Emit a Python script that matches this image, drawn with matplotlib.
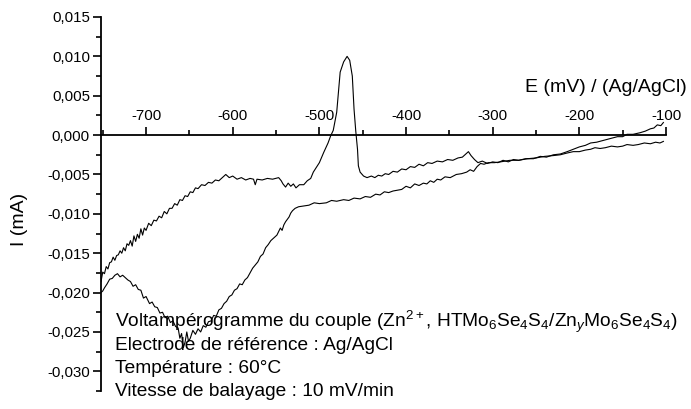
import numpy as np
import matplotlib
matplotlib.use("Agg")
import matplotlib.pyplot as plt
from matplotlib.ticker import MultipleLocator, FuncFormatter

plt.rcParams['font.family'] = ['Liberation Sans', 'DejaVu Sans']
plt.rcParams['mathtext.fontset'] = 'custom'
plt.rcParams['mathtext.rm'] = 'Liberation Sans'
plt.rcParams['mathtext.it'] = 'Liberation Sans:italic'

# aller : -100 -> -752 mV (branche du bas)
E_aller = [-103, -107, -112, -118, -125, -132, -138, -145, -150, -156, -163, -170,
           -176, -182, -187, -193, -200, -207, -215, -222, -230, -240, -250, -260,
           -270, -280, -291, -298, -305, -310, -314, -318, -322, -326, -330, -336,
           -342, -349, -355, -360, -364, -368, -372, -376, -380, -385, -390, -395,
           -400, -405, -410, -415, -420, -425, -430, -435, -441, -447, -453, -460,
           -466, -472, -480, -486, -492, -500, -506, -512, -518, -524, -528, -531,
           -533, -535, -537, -539, -541, -543, -545, -549, -553, -556, -559, -562,
           -565, -568, -571, -574, -577, -580, -583, -586, -589, -592, -595, -598,
           -601, -604, -607, -610, -613, -616, -619, -622, -625, -628, -631, -634,
           -637, -640, -643, -646, -649, -651, -653, -655, -657, -659, -661, -663,
           -666, -669, -672, -675, -678, -681, -684, -687, -690, -693, -696, -700,
           -703, -706, -709, -712, -715, -718, -721, -724, -727, -730, -733, -736,
           -739, -742, -745, -748, -750, -752]
I_aller = [-0.0008, -0.0010, -0.0009, -0.0011, -0.0010, -0.0012, -0.0013, -0.0012,
           -0.0014, -0.0015, -0.0014, -0.0016, -0.0017, -0.0016, -0.0018, -0.0019,
           -0.0021, -0.0021, -0.0023, -0.0025, -0.0026, -0.0027, -0.0029, -0.0030,
           -0.0032, -0.0032, -0.0034, -0.0035, -0.0035, -0.0037, -0.0036, -0.0040,
           -0.0046, -0.0044, -0.0047, -0.0049, -0.0050, -0.0054, -0.0053, -0.0057,
           -0.0056, -0.0060, -0.0058, -0.0062, -0.0061, -0.0064, -0.0062, -0.0067,
           -0.0065, -0.0069, -0.0070, -0.0071, -0.0073, -0.0072, -0.0076, -0.0075,
           -0.0079, -0.0078, -0.0081, -0.0080, -0.0083, -0.0082, -0.0084, -0.0083,
           -0.0086, -0.0087, -0.0086, -0.0089, -0.0090, -0.0091, -0.0093, -0.0096,
           -0.0099, -0.0104, -0.0107, -0.0110, -0.0114, -0.0121, -0.0118, -0.0127,
           -0.0131, -0.0134, -0.0139, -0.0143, -0.0151, -0.0154, -0.0161, -0.0165,
           -0.0169, -0.0175, -0.0181, -0.0184, -0.0190, -0.0189, -0.0195, -0.0197,
           -0.0203, -0.0205, -0.0211, -0.0214, -0.0220, -0.0222, -0.0230, -0.0229,
           -0.0236, -0.0237, -0.0244, -0.0242, -0.0250, -0.0246, -0.0253, -0.0248,
           -0.0258, -0.0262, -0.0250, -0.0263, -0.0270, -0.0252, -0.0258, -0.0245,
           -0.0243, -0.0236, -0.0238, -0.0230, -0.0232, -0.0225, -0.0226, -0.0219,
           -0.0218, -0.0212, -0.0214, -0.0205, -0.0207, -0.0197, -0.0196, -0.0190,
           -0.0192, -0.0186, -0.0184, -0.0181, -0.0178, -0.0180, -0.0176, -0.0178,
           -0.0182, -0.0183, -0.0189, -0.0194, -0.0198, -0.0200]

# retour : -752 -> -100 mV (branche du haut, pic d'oxydation)
E_retour = [-752, -750, -748, -746, -744, -742, -740, -738, -736, -734, -732, -730,
            -728, -726, -724, -722, -720, -718, -716, -714, -712, -710, -708, -706,
            -704, -702, -700, -697, -694, -691, -688, -685, -682, -679, -676, -673,
            -670, -667, -664, -661, -658, -655, -652, -649, -646, -643, -640, -636,
            -632, -628, -624, -620, -616, -612, -608, -604, -600, -595, -590, -585,
            -580, -576, -574, -572, -566, -560, -554, -547, -544, -542, -539, -536,
            -533, -530, -527, -523, -518, -514, -510, -507, -500, -495, -490, -487,
            -484, -480, -476, -472, -468, -465, -462, -460, -458, -456, -455, -453,
            -449, -445, -440, -436, -432, -428, -424, -420, -415, -410, -405, -400,
            -395, -390, -385, -380, -375, -370, -364, -358, -352, -346, -340, -335,
            -331, -328, -325, -321, -317, -312, -306, -300, -294, -288, -282, -276,
            -270, -262, -253, -245, -238, -230, -222, -214, -207, -200, -193, -187,
            -180, -170, -163, -156, -150, -145, -138, -130, -124, -118, -114, -110,
            -106, -103]
I_retour = [-0.0186, -0.0174, -0.0176, -0.0167, -0.0170, -0.0162, -0.0161, -0.0155,
            -0.0159, -0.0153, -0.0152, -0.0147, -0.0150, -0.0143, -0.0147, -0.0138,
            -0.0140, -0.0134, -0.0141, -0.0128, -0.0135, -0.0126, -0.0131, -0.0119,
            -0.0127, -0.0118, -0.0121, -0.0112, -0.0115, -0.0108, -0.0109, -0.0103,
            -0.0105, -0.0097, -0.0100, -0.0093, -0.0093, -0.0087, -0.0089, -0.0082,
            -0.0083, -0.0077, -0.0078, -0.0072, -0.0073, -0.0067, -0.0068, -0.0063,
            -0.0064, -0.0060, -0.0061, -0.0057, -0.0058, -0.0054, -0.0050, -0.0054,
            -0.0052, -0.0056, -0.0054, -0.0057, -0.0055, -0.0056, -0.0063, -0.0056,
            -0.0057, -0.0055, -0.0056, -0.0054, -0.0058, -0.0062, -0.0066, -0.0061,
            -0.0065, -0.0062, -0.0067, -0.0063, -0.0063, -0.0058, -0.0055, -0.0047,
            -0.0035, -0.0022, -0.0010, -0.0001, 0.0006, 0.0029, 0.0080, 0.0093,
            0.0100, 0.0095, 0.0075, 0.0033, 0.0005, -0.0018, -0.0039, -0.0047,
            -0.0052, -0.0054, -0.0052, -0.0054, -0.0051, -0.0052, -0.0049, -0.0050,
            -0.0046, -0.0047, -0.0043, -0.0044, -0.0040, -0.0041, -0.0037, -0.0039,
            -0.0035, -0.0036, -0.0033, -0.0034, -0.0031, -0.0032, -0.0029, -0.0028,
            -0.0024, -0.0021, -0.0026, -0.0031, -0.0035, -0.0033, -0.0036, -0.0034,
            -0.0035, -0.0032, -0.0034, -0.0031, -0.0032, -0.0030, -0.0030, -0.0027,
            -0.0028, -0.0025, -0.0024, -0.0021, -0.0018, -0.0015, -0.0013, -0.0010,
            -0.0009, -0.0006, -0.0004, -0.0002, -0.0002, 0.0001, 0.0001, 0.0003,
            0.0005, 0.0008, 0.0009, 0.0013, 0.0012, 0.0016]

W, H = 691, 409
fig = plt.figure(figsize=(W / 100, H / 100), dpi=100)
ax = fig.add_axes([101 / W, 1 - 391 / H, 565 / W, 374 / H])

ax.plot(E_aller, I_aller, color='black', lw=0.8)
ax.plot(E_retour, I_retour, color='black', lw=0.8)

ax.set_xlim(-752, -100)
ax.set_ylim(-0.0325, 0.015)

ax.spines['right'].set_visible(False)
ax.spines['bottom'].set_visible(False)
ax.spines['top'].set_position(('data', 0))
ax.spines['top'].set_linewidth(1.3)
ax.spines['left'].set_linewidth(1.3)

ax.xaxis.tick_top()
ax.xaxis.set_major_locator(MultipleLocator(100))
ax.xaxis.set_minor_locator(MultipleLocator(50))
ax.xaxis.set_major_formatter(FuncFormatter(lambda v, p: "%d" % v))
ax.tick_params(axis='x', which='major', direction='out', length=6, width=1.2,
               labelsize=10.8, pad=3)
ax.tick_params(axis='x', which='minor', direction='out', length=3.5, width=1.2)

ax.yaxis.set_major_locator(MultipleLocator(0.005))
ax.yaxis.set_minor_locator(MultipleLocator(0.0025))
ax.yaxis.set_major_formatter(FuncFormatter(
    lambda v, p: ("%.3f" % (0.0 if abs(v) < 1e-9 else v)).replace('.', ',')))
ax.tick_params(axis='y', which='major', direction='out', length=6, width=1.2,
               labelsize=10.8, pad=2)
ax.tick_params(axis='y', which='minor', direction='out', length=3.5, width=1.2)

fig.text(20 / W, 1 - 219 / H, "I (mA)", rotation=90, fontsize=14,
         ha='center', va='center')
fig.text(687 / W, 1 - 88 / H, "E (mV) / (Ag/AgCl)", fontsize=14,
         ha='right', va='center')

lignes = [
    r"Voltampérogramme du couple (Zn$^{2+}$, HTMo$_6$Se$_4$S$_4$/Zn$_y$Mo$_6$Se$_4$S$_4$)",
    "Electrode de référence : Ag/AgCl",
    "Température : 60°C",
    "Vitesse de balayage : 10 mV/min",
]
for i, t in enumerate(lignes):
    fig.text(115 / W, 1 - (327 + 23 * i) / H, t, fontsize=13.8,
             ha='left', va='baseline')

fig.savefig("out.png", dpi=100)
